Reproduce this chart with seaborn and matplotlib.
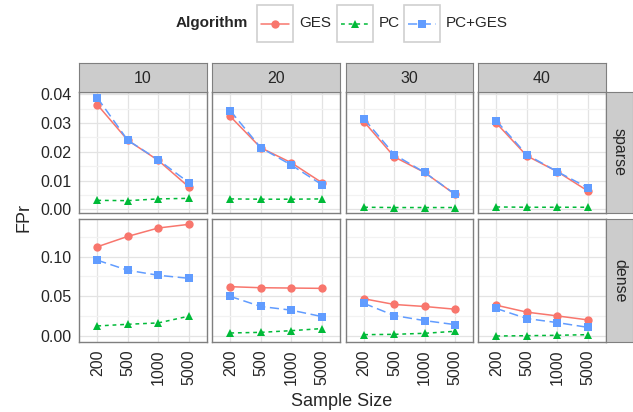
import pandas as pd
import matplotlib
matplotlib.use("Agg")
import matplotlib.pyplot as plt
from matplotlib.patches import Rectangle
from matplotlib.lines import Line2D
import seaborn as sns

sns.set_style("white")
plt.rcParams["font.family"] = ["Liberation Sans", "DejaVu Sans"]

# data
sizes = ["200", "500", "1000", "5000"]
nodes = ["10", "20", "30", "40"]
densities = ["sparse", "dense"]
algorithms = ["GES", "PC", "PC+GES"]

sparse_ges = {"10": [0.0364, 0.0240, 0.0170, 0.0078],
              "20": [0.0323, 0.0214, 0.0162, 0.0093],
              "30": [0.0304, 0.0182, 0.0128, 0.0052],
              "40": [0.0300, 0.0186, 0.0131, 0.0064]}
sparse_pc = {"10": [0.0031, 0.0030, 0.0036, 0.0038],
             "20": [0.0036, 0.0035, 0.0035, 0.0036],
             "30": [0.0007, 0.0006, 0.0006, 0.0006],
             "40": [0.0008, 0.0007, 0.0007, 0.0007]}
sparse_pcges = {"10": [0.0388, 0.0240, 0.0172, 0.0093],
                "20": [0.0343, 0.0214, 0.0154, 0.0086],
                "30": [0.0314, 0.0190, 0.0128, 0.0053],
                "40": [0.0308, 0.0190, 0.0131, 0.0075]}
dense_ges = {"10": [0.1122, 0.1252, 0.1357, 0.1403],
             "20": [0.0622, 0.0609, 0.0605, 0.0601],
             "30": [0.0470, 0.0399, 0.0374, 0.0340],
             "40": [0.0390, 0.0303, 0.0256, 0.0206]}
dense_pc = {"10": [0.0130, 0.0151, 0.0168, 0.0252],
            "20": [0.0042, 0.0050, 0.0071, 0.0097],
            "30": [0.0021, 0.0025, 0.0038, 0.0063],
            "40": [0.0004, 0.0008, 0.0013, 0.0021]}
dense_pcges = {"10": [0.0954, 0.0828, 0.0765, 0.0727],
               "20": [0.0500, 0.0374, 0.0328, 0.0248],
               "30": [0.0412, 0.0260, 0.0197, 0.0147],
               "40": [0.0349, 0.0223, 0.0172, 0.0113]}

table = {("sparse", "GES"): sparse_ges, ("sparse", "PC"): sparse_pc,
         ("sparse", "PC+GES"): sparse_pcges, ("dense", "GES"): dense_ges,
         ("dense", "PC"): dense_pc, ("dense", "PC+GES"): dense_pcges}

rows = []
for (dens, alg), d in table.items():
    for n in nodes:
        for s, v in zip(sizes, d[n]):
            rows.append({"density": dens, "nodes": n, "Algorithm": alg,
                         "size": s, "FPr": v})
df = pd.DataFrame(rows)

palette = {"GES": "#F8766D", "PC": "#00BA38", "PC+GES": "#619CFF"}
markers = {"GES": "o", "PC": "^", "PC+GES": "s"}
dashes = {"GES": "", "PC": (2.5, 2.5), "PC+GES": (6, 3)}

W, H = 633, 412
fig = plt.figure(figsize=(W / 100, H / 100), dpi=100)


def rect(x0, y0, x1, y1):
    return [x0 / W, 1 - y1 / H, (x1 - x0) / W, (y1 - y0) / H]


cols_px = [(79, 207), (212, 340), (346, 473), (478, 606)]
rows_px = [(92, 213), (219, 342)]
ylims = {"sparse": (-0.0013, 0.0408), "dense": (-0.0071, 0.147)}
yticks = {"sparse": [0, 0.01, 0.02, 0.03, 0.04], "dense": [0, 0.05, 0.10]}
yminor = {"sparse": [0.005, 0.015, 0.025, 0.035], "dense": [0.025, 0.075, 0.125]}
border = "#7F7F7F"
strip_fill = "#CCCCCC"
fs = 11.5

for r, dens in enumerate(densities):
    for c, n in enumerate(nodes):
        x0, x1 = cols_px[c]
        y0, y1 = rows_px[r]
        ax = fig.add_axes(rect(x0, y0, x1, y1))
        sub = df[(df["density"] == dens) & (df["nodes"] == n)]
        sns.lineplot(data=sub, x="size", y="FPr", hue="Algorithm", style="Algorithm",
                     palette=palette, markers=markers, dashes=dashes, sort=False,
                     legend=False, ax=ax, linewidth=1.1, markersize=6,
                     markeredgewidth=0)
        ax.set_xlim(-0.6, 3.6)
        ax.set_ylim(*ylims[dens])
        ax.set_yticks(yticks[dens])
        ax.set_yticks(yminor[dens], minor=True)
        ax.set_axisbelow(True)
        ax.grid(True, which="major", color="#E3E3E3", linewidth=0.9)
        ax.grid(True, which="minor", axis="y", color="#F2F2F2", linewidth=0.9)
        ax.set_xlabel("")
        ax.set_ylabel("")
        for sp in ax.spines.values():
            sp.set_color(border)
            sp.set_linewidth(1.0)
        ax.tick_params(axis="both", which="major", length=3.5, width=0.8,
                       color="#333333", labelsize=fs, pad=2)
        ax.tick_params(axis="y", which="minor", length=0)
        if c == 0:
            labs = ["%.2f" % t for t in yticks[dens]]
            ax.set_yticklabels(labs)
        else:
            ax.tick_params(axis="y", which="major", length=0, labelleft=False)
        if r == 1:
            ax.set_xticks(range(len(sizes)))
            ax.set_xticklabels(sizes, rotation=90)
        else:
            ax.set_xticks(range(len(sizes)))
            ax.tick_params(axis="x", length=0, labelbottom=False)

        if r == 0:
            sax = fig.add_axes(rect(x0, 63, x1, 92))
            sax.set_xticks([])
            sax.set_yticks([])
            sax.set_facecolor(strip_fill)
            for sp in sax.spines.values():
                sp.set_color(border)
            sax.text(0.5, 0.48, n, ha="center", va="center", fontsize=fs,
                     transform=sax.transAxes)
    rax = fig.add_axes(rect(606, rows_px[r][0], 633, rows_px[r][1]))
    rax.set_xticks([])
    rax.set_yticks([])
    rax.set_facecolor(strip_fill)
    for sp in rax.spines.values():
        sp.set_color(border)
    rax.text(0.5, 0.5, dens, ha="center", va="center", rotation=-90,
             fontsize=fs, transform=rax.transAxes)

fig.text(342 / W, 1 - 401 / H, "Sample Size", ha="center", va="center", fontsize=13)
fig.text(24 / W, 1 - 217 / H, "FPr", ha="center", va="center", rotation=90, fontsize=13)

# legend drawn in pixel coordinates
lax = fig.add_axes([0, 0, 1, 1], facecolor="none")
lax.set_xlim(0, W)
lax.set_ylim(H, 0)
lax.axis("off")
lax.text(176, 23, "Algorithm", fontsize=11, fontweight="bold", va="center", ha="left")
key_x = [257, 337, 404]
for kx, alg in zip(key_x, algorithms):
    lax.add_patch(Rectangle((kx, 5), 36, 37, facecolor="white", edgecolor="#D0D0D0",
                            linewidth=1.2))
    ds = dashes[alg]
    ln = Line2D([kx + 4, kx + 32], [23.5, 23.5], color=palette[alg], linewidth=1.1,
                marker=None)
    if ds:
        ln.set_dashes(ds)
    lax.add_line(ln)
    lax.add_line(Line2D([kx + 18], [23.5], color=palette[alg], marker=markers[alg],
                        markersize=6, markeredgewidth=0, linestyle="none"))
    lax.text(kx + 42, 23, alg, fontsize=11, va="center", ha="left")

fig.savefig("out.png", dpi=100)
